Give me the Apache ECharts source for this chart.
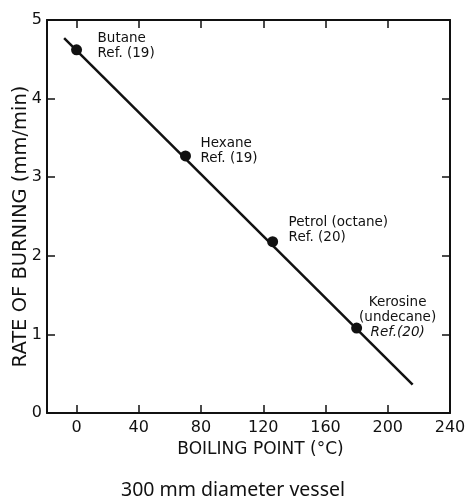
<!DOCTYPE html>
<html><head><meta charset="utf-8">
<script src="https://cdn.jsdelivr.net/npm/echarts@6/dist/echarts.min.js"></script>
<style>html,body{margin:0;padding:0;background:#fff}#c{width:466px;height:500px}</style>
</head><body><div id="c"></div>
<script>
// ---- data ----
const fuels = ['Butane', 'Hexane', 'Petrol (octane)', 'Kerosine\n(undecane)'];
const refs = ['Ref. (19)', 'Ref. (19)', 'Ref. (20)', 'Ref.(20)'];
const boilingPoints = [0, 70, 126, 180];
const burningRates = [4.62, 3.27, 2.18, 1.08];
const fitX = [-8, 216];
const fitY = [4.77, 0.36];
const xTicks = [0, 40, 80, 120, 160, 200, 240];
const yTicks = [0, 1, 2, 3, 4, 5];
const xName = 'BOILING POINT (°C)';
const yName = 'RATE OF BURNING (mm/min)';
const caption = '300 mm diameter vessel';

// ---- label styling (not data) ----
const labelStyles = [
  { offset: [21, -4], align: 'left' },
  { offset: [15, -5], align: 'left' },
  { offset: [16, -12], align: 'left' },
  { offset: [41, -11], align: 'center', italicRef: true }
];

const font = 'DejaVu Sans';
const ink = '#111';

const pointData = boilingPoints.map((x, i) => {
  const s = labelStyles[i];
  const refTxt = s.italicRef ? '{i|' + refs[i] + '}' : refs[i];
  return {
    value: [x, burningRates[i]],
    label: {
      show: true,
      position: 'inside',
      offset: s.offset,
      align: s.align,
      verticalAlign: 'middle',
      formatter: fuels[i] + '\n' + refTxt,
      color: ink,
      opacity: 1,
      fontFamily: font,
      fontSize: 13.5,
      lineHeight: 15,
      rich: { i: { fontStyle: 'italic', fontFamily: font, fontSize: 13.5, lineHeight: 15, color: ink } }
    }
  };
});

const axisLine = { show: true, onZero: false, lineStyle: { color: ink, width: 2 } };
const tickStyle = { lineStyle: { color: ink, width: 1.5 } };

const chart = echarts.init(document.getElementById('c'), null, { renderer: 'canvas' });
chart.setOption({
  animation: false,
  backgroundColor: '#fff',
  title: {
    text: caption, left: 'center', top: 475,
    textStyle: { fontFamily: 'Noto Sans', fontSize: 19.5, fontWeight: 'normal', color: ink }
  },
  grid: { left: 47, right: 16, top: 20, bottom: 87, containLabel: false, outerBoundsMode: 'none' },
  xAxis: [{
    type: 'value', position: 'bottom', min: -19, max: 240,
    name: xName, nameLocation: 'middle', nameGap: 25,
    nameTextStyle: { fontFamily: font, fontSize: 17, color: ink, padding: [0, 0, 0, 24] },
    axisLine: axisLine,
    axisTick: Object.assign({ show: true, inside: true, length: 8, customValues: xTicks }, tickStyle),
    axisLabel: { show: true, customValues: xTicks, margin: 7, fontFamily: font, fontSize: 16, color: ink },
    splitLine: { show: false }
  }, {
    type: 'value', position: 'top', min: -19, max: 240,
    axisLine: axisLine,
    axisTick: Object.assign({ show: true, inside: true, length: 8, customValues: xTicks }, tickStyle),
    axisLabel: { show: false },
    splitLine: { show: false }
  }],
  yAxis: [{
    type: 'value', position: 'left', min: 0, max: 5, interval: 1,
    name: yName, nameLocation: 'middle', nameGap: 16, nameRotate: 90, nameMoveOverlap: false,
    nameTextStyle: { fontFamily: font, fontSize: 19.5, color: ink, padding: [0, 20, 0, 0] },
    axisLine: axisLine,
    axisTick: Object.assign({ show: true, inside: true, length: 8 }, tickStyle),
    axisLabel: { show: true, margin: 5, fontFamily: font, fontSize: 16, color: ink },
    splitLine: { show: false }
  }, {
    type: 'value', position: 'right', min: 0, max: 5, interval: 1,
    axisLine: axisLine,
    axisTick: Object.assign({ show: true, inside: true, length: 8 }, tickStyle),
    axisLabel: { show: false },
    splitLine: { show: false }
  }],
  series: [{
    type: 'line',
    data: fitX.map((x, i) => [x, fitY[i]]),
    symbol: 'none',
    lineStyle: { color: ink, width: 2.5 },
    z: 2
  }, {
    type: 'scatter',
    data: pointData,
    symbol: 'circle',
    symbolSize: 11,
    itemStyle: { color: ink, opacity: 1 },
    z: 3
  }]
});
</script>
</body></html>
